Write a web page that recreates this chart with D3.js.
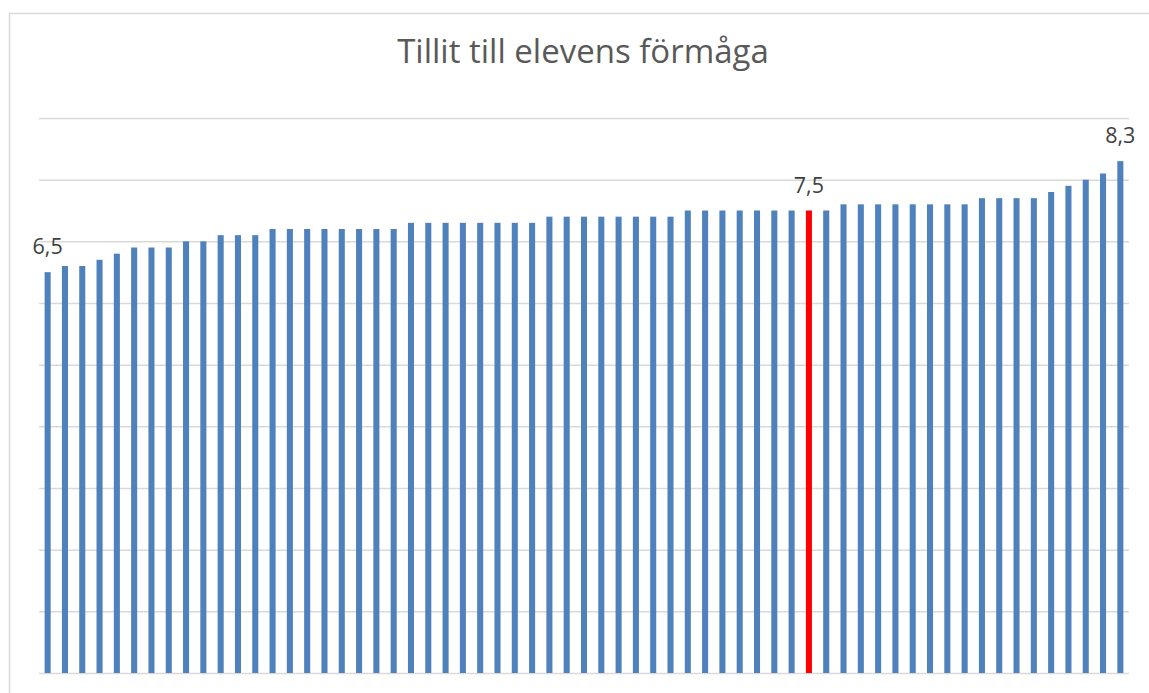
<!DOCTYPE html>
<html>
<head>
<meta charset="utf-8">
<script src="https://cdn.jsdelivr.net/npm/d3@7"></script>
<style>
  body { margin: 0; background: #fff; }
  svg { display: block; }
</style>
</head>
<body>
<script>
const title = "Tillit till elevens förmåga";

const values = [
  6.5, 6.6, 6.6, 6.7, 6.8, 6.9, 6.9, 6.9, 7.0, 7.0, 7.1, 7.1, 7.1,
  7.2, 7.2, 7.2, 7.2, 7.2, 7.2, 7.2, 7.2,
  7.3, 7.3, 7.3, 7.3, 7.3, 7.3, 7.3, 7.3,
  7.4, 7.4, 7.4, 7.4, 7.4, 7.4, 7.4, 7.4,
  7.5, 7.5, 7.5, 7.5, 7.5, 7.5, 7.5, 7.5, 7.5,
  7.6, 7.6, 7.6, 7.6, 7.6, 7.6, 7.6, 7.6,
  7.7, 7.7, 7.7, 7.7,
  7.8, 7.9, 8.0, 8.1, 8.3
];
const categories = values.map((d, i) => "Skola " + (i + 1));
const highlighted = [44];
const labelled = [0, 44, 62];
const yTicks = d3.range(0, 10);

const w = 1149;
const h = 693;
const margin = { top: 118, right: 20, bottom: 20, left: 39 };
const plotRight = 1129;
const plotBottom = 673;

const svg = d3.select("body")
  .append("svg")
  .attr("width", w)
  .attr("height", h);

// chart frame
svg.append("rect")
  .attr("x", 9.5)
  .attr("y", 13.5)
  .attr("width", w + 20)
  .attr("height", h + 20)
  .attr("fill", "#fff")
  .attr("stroke", "#d9d9d9")
  .attr("stroke-width", 1.5);

const xScale = d3.scaleBand()
  .domain(categories)
  .range([margin.left, plotRight])
  .paddingInner(0.65)
  .paddingOuter(0.325);

const yScale = d3.scaleLinear()
  .domain([0, 9])
  .range([plotBottom, margin.top]);

const yAxis = d3.axisLeft(yScale)
  .tickValues(yTicks)
  .tickSize(-(plotRight - margin.left))
  .tickFormat("");

svg.append("g")
  .attr("transform", "translate(" + margin.left + ",0)")
  .call(yAxis)
  .call(g => g.select(".domain").remove())
  .call(g => g.selectAll(".tick line")
    .attr("stroke", "#d9d9d9")
    .attr("stroke-width", 1.5));

svg.selectAll("rect.bar")
  .data(values)
  .enter()
  .append("rect")
  .attr("class", "bar")
  .attr("x", (d, i) => xScale(categories[i]))
  .attr("y", d => yScale(d))
  .attr("width", xScale.bandwidth())
  .attr("height", d => plotBottom - yScale(d))
  .attr("fill", (d, i) => highlighted.includes(i) ? "#ff0000" : "#4f81bd");

svg.selectAll("text.label")
  .data(labelled)
  .enter()
  .append("text")
  .attr("class", "label")
  .attr("x", i => xScale(categories[i]) + xScale.bandwidth() / 2)
  .attr("y", i => yScale(values[i]) - 18)
  .attr("text-anchor", "middle")
  .attr("font-family", "'Open Sans', sans-serif")
  .attr("font-size", 21.5)
  .attr("fill", "#404040")
  .text(i => d3.format(".1f")(values[i]).replace(".", ","));

svg.append("text")
  .attr("x", 583)
  .attr("y", 63)
  .attr("text-anchor", "middle")
  .attr("font-family", "'Open Sans', sans-serif")
  .attr("font-size", 33)
  .attr("fill", "#595959")
  .text(title);
</script>
</body>
</html>
